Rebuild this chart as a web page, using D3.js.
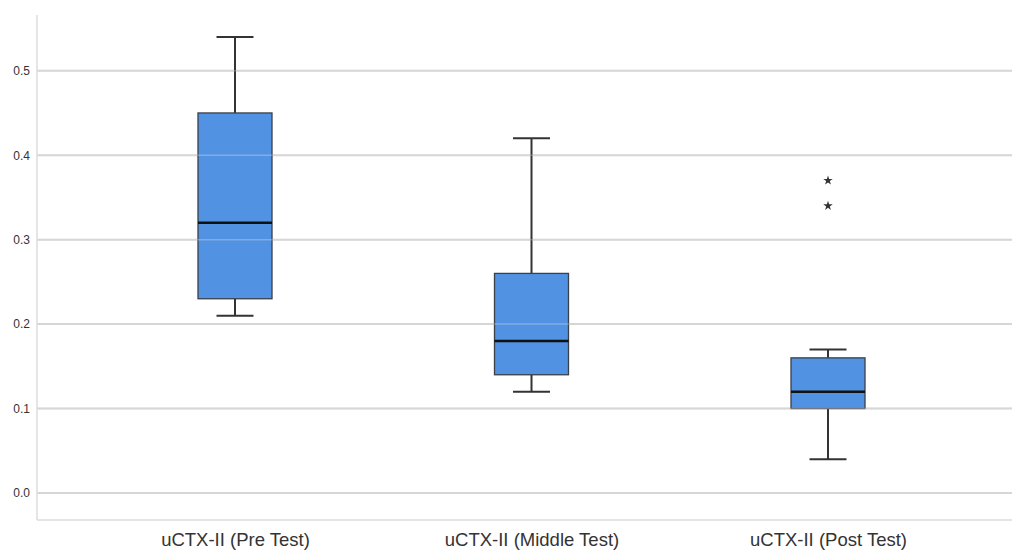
<!DOCTYPE html>
<html>
<head>
<meta charset="utf-8">
<script src="https://cdn.jsdelivr.net/npm/d3@7"></script>
<style>
  html, body { margin: 0; padding: 0; background: #fff; }
  svg { display: block; }
</style>
</head>
<body>
<svg id="chart" width="1012" height="551"></svg>
<script>
// ---- data ----
const categories = ["uCTX-II (Pre Test)", "uCTX-II (Middle Test)", "uCTX-II (Post Test)"];
const whiskerLow  = [0.21, 0.12, 0.04];
const q1          = [0.23, 0.14, 0.10];
const medians     = [0.32, 0.18, 0.12];
const q3          = [0.45, 0.26, 0.16];
const whiskerHigh = [0.54, 0.42, 0.17];
const outlierCategory = ["uCTX-II (Post Test)", "uCTX-II (Post Test)"];
const outlierValues   = [0.37, 0.34];
const yTicks = [0.0, 0.1, 0.2, 0.3, 0.4, 0.5];

(function () {
const boxes = categories.map((c, i) => ({
  cat: c, lo: whiskerLow[i], q1: q1[i], med: medians[i], q3: q3[i], hi: whiskerHigh[i]
}));
const outliers = outlierValues.map((v, i) => ({ cat: outlierCategory[i], v }));

const svg = d3.select("#chart");
const pl = 37, pr = 1012, pt = 15, pb = 520;

const y = d3.scaleLinear().domain([-0.032, 0.566]).range([pb, pt]);
const x = d3.scalePoint().domain(categories).range([235, 828]);
const boxW = 74, capW = 37;
const gridColor = "#d3d3d3";

// gridlines (under)
svg.append("g").selectAll("line").data(yTicks).join("line")
  .attr("x1", pl).attr("x2", pr)
  .attr("y1", d => y(d)).attr("y2", d => y(d))
  .attr("stroke", gridColor).attr("stroke-width", 2);

// frame: left axis line and bottom border
svg.append("line").attr("x1", pl).attr("x2", pl).attr("y1", pt).attr("y2", pb)
  .attr("stroke", "#dcdcdc").attr("stroke-width", 1.5);
svg.append("line").attr("x1", pl).attr("x2", pr).attr("y1", pb).attr("y2", pb)
  .attr("stroke", "#dcdcdc").attr("stroke-width", 1.5);

// y axis labels
const yAxis = d3.axisLeft(y).tickValues(yTicks).tickFormat(d3.format(".1f")).tickSize(0).tickPadding(7);
const gy = svg.append("g").attr("transform", `translate(${pl},0)`).call(yAxis);
gy.select(".domain").remove();
gy.selectAll("text").attr("font-family", "Liberation Sans, Arial, sans-serif")
  .attr("font-size", 12).attr("fill", "#333");

// whiskers
const g = svg.append("g");
g.selectAll(".wl").data(boxes).join("line").attr("class", "wl")
  .attr("x1", d => x(d.cat)).attr("x2", d => x(d.cat))
  .attr("y1", d => y(d.hi)).attr("y2", d => y(d.q3))
  .attr("stroke", "#333").attr("stroke-width", 2);
g.selectAll(".wl2").data(boxes).join("line").attr("class", "wl2")
  .attr("x1", d => x(d.cat)).attr("x2", d => x(d.cat))
  .attr("y1", d => y(d.q1)).attr("y2", d => y(d.lo))
  .attr("stroke", "#333").attr("stroke-width", 2);
g.selectAll(".capH").data(boxes).join("line").attr("class", "capH")
  .attr("x1", d => x(d.cat) - capW / 2).attr("x2", d => x(d.cat) + capW / 2)
  .attr("y1", d => y(d.hi)).attr("y2", d => y(d.hi))
  .attr("stroke", "#333").attr("stroke-width", 2);
g.selectAll(".capL").data(boxes).join("line").attr("class", "capL")
  .attr("x1", d => x(d.cat) - capW / 2).attr("x2", d => x(d.cat) + capW / 2)
  .attr("y1", d => y(d.lo)).attr("y2", d => y(d.lo))
  .attr("stroke", "#333").attr("stroke-width", 2);

// boxes
g.selectAll("rect").data(boxes).join("rect")
  .attr("x", d => x(d.cat) - boxW / 2).attr("width", boxW)
  .attr("y", d => y(d.q3)).attr("height", d => y(d.q1) - y(d.q3))
  .attr("fill", "#5192e3").attr("stroke", "#3a3f48").attr("stroke-width", 1.3);

// gridlines showing through boxes
svg.append("g").selectAll("line").data(yTicks).join("line")
  .attr("x1", pl).attr("x2", pr)
  .attr("y1", d => y(d)).attr("y2", d => y(d))
  .attr("stroke", "#e0e0e0").attr("stroke-width", 1.5).attr("opacity", 0.35);

// medians
g.selectAll(".med").data(boxes).join("line").attr("class", "med")
  .attr("x1", d => x(d.cat) - boxW / 2).attr("x2", d => x(d.cat) + boxW / 2)
  .attr("y1", d => y(d.med)).attr("y2", d => y(d.med))
  .attr("stroke", "#111").attr("stroke-width", 2.5);

// outliers (asterisks)
const star = d3.symbol().type(d3.symbolStar).size(28);
svg.append("g").selectAll("path").data(outliers).join("path")
  .attr("d", star)
  .attr("transform", d => `translate(${x(d.cat)},${y(d.v)})`)
  .attr("fill", "#333");

// x labels
const xAxis = d3.axisBottom(x).tickSize(0).tickPadding(0);
const gx = svg.append("g").attr("transform", `translate(0,${pb})`).call(xAxis);
gx.select(".domain").remove();
gx.selectAll("text").attr("dy", null).attr("y", 26)
  .attr("font-family", "Liberation Sans, Arial, sans-serif")
  .attr("font-size", 18.5).attr("fill", "#333");
})();
</script>
</body>
</html>
